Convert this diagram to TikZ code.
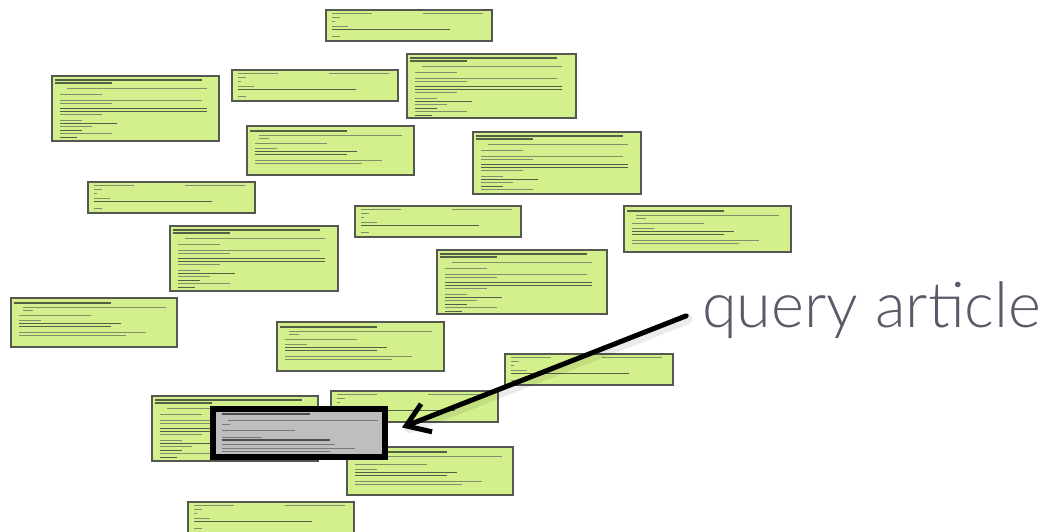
\documentclass[tikz,border=0pt]{standalone}
\usepackage{fontspec}
\usetikzlibrary{arrows.meta}
\IfFontExistsTF{Lato Light}{\newfontfamily\qfont{Lato Light}}{\newfontfamily\qfont{Lato}}
\definecolor{artfill}{RGB}{212,240,140}
\definecolor{artedge}{RGB}{85,88,80}
\definecolor{artline}{RGB}{130,142,105}
\definecolor{artdark}{RGB}{85,95,70}
\definecolor{qfill}{RGB}{190,190,190}
\definecolor{qline}{RGB}{120,120,120}
\definecolor{labelcol}{RGB}{88,92,104}
\tikzset{
  artbox/.style={draw=artedge, fill=artfill, line width=1.4pt, rectangle, inner sep=0pt, outer sep=0pt, anchor=north west},
  qbox/.style={draw=black, fill=qfill, line width=6pt, rectangle, inner sep=0pt},
  tl/.style={draw=artline, line width=0.7pt},
  tld/.style={draw=artdark, line width=0.9pt},
  ttl/.style={draw=artdark, line width=1.3pt},
  ql/.style={draw=qline, line width=0.8pt},
  qld/.style={draw=black!70, line width=1.1pt},
  qarrow/.style={draw=black, line width=5pt, line cap=round, -{Straight Barb[length=22pt,width=30pt]}},
  qshadow/.style={draw=black, opacity=0.08, line width=11pt, line cap=round},
  qlabel/.style={text=labelcol, inner sep=0pt, font=\qfont\fontsize{63}{70}\selectfont}
}
% short article card
\newcommand{\ArtShort}[4]{%
  \node[artbox, minimum width=#4pt, minimum height=31pt] (#1) at (#2,#3) {};
  \begin{scope}[shift={(#2,#3)}]
    \draw[tl] (6,3) -- (46,3); \draw[tl] (97,3) -- (157,3);
    \draw[tl] (6,7) -- (14,7);
    \draw[tl] (6,11) -- (9,11);
    \draw[tl] (6,16) -- (22,16);
    \draw[tld] (6,19.5) -- (124,19.5);
    \draw[tl] (6,26) -- (14,26);
  \end{scope}}
% medium article card
\newcommand{\ArtMed}[5]{%
  \node[artbox, minimum width=#4pt, minimum height=#5pt] (#1) at (#2,#3) {};
  \begin{scope}[shift={(#2,#3)}]
    \draw[ttl] (3,5) -- (100,5);
    \draw[tl] (12,9) -- (155,9);
    \draw[tl] (12,12.5) -- (22,12.5);
    \draw[tl] (8,17) -- (80,17);
    \draw[tl] (8,22) -- (30,22);
    \draw[tld] (8,25) -- (110,25);
    \draw[tld] (8,28) -- (100,28);
    \draw[tl] (8,34) -- (135,34);
    \draw[tl] (8,37.5) -- (115,37.5);
  \end{scope}}
% long article card
\newcommand{\ArtLong}[5]{%
  \node[artbox, minimum width=#4pt, minimum height=#5pt] (#1) at (#2,#3) {};
  \begin{scope}[shift={(#2,#3)}]
    \draw[ttl] (3,4) -- (150,4); \draw[ttl] (3,7) -- (60,7);
    \draw[tl] (15,12) -- (155,12);
    \draw[tl] (8,18) -- (50,18);
    \draw[tl] (8,24) -- (150,24); \draw[tl] (8,27) -- (60,27);
    \draw[tld] (8,32) -- (155,32); \draw[tld] (8,35) -- (155,35); \draw[tl] (8,38) -- (50,38);
    \draw[tl] (8,44) -- (30,44); \draw[tld] (8,47) -- (65,47); \draw[tl] (8,50) -- (40,50);
    \draw[tld] (8,54) -- (30,54); \draw[tl] (8,57) -- (60,57); \draw[tld] (8,61) -- (25,61);
  \end{scope}}
\begin{document}
\begin{tikzpicture}[x=1pt,y=-1pt]
\useasboundingbox[fill=white] (0,0) rectangle (1050,531);
% article cards
\ArtShort{a}{326}{10}{166}
\ArtLong{b}{52}{76}{167}{65}
\ArtShort{c}{232}{70}{166}
\ArtLong{d}{407}{54}{169}{64}
\ArtMed{e}{247}{126}{167}{49}
\ArtLong{f}{473}{132}{168}{62}
\ArtShort{g}{88}{182}{167}
\ArtShort{h}{355}{206}{166}
\ArtLong{i}{170}{226}{168}{65}
\ArtLong{j}{437}{250}{170}{64}
\ArtMed{k}{624}{206}{167}{46}
\ArtMed{l}{11}{298}{166}{49}
\ArtMed{m}{277}{322}{167}{49}
\ArtShort{n}{505}{354}{168}
\ArtShort{o}{331}{391}{167}
\ArtLong{p}{152}{396}{166}{65}
\ArtMed{r}{347}{447}{166}{48}
\ArtShort{s}{188}{502}{166}
% query article
\node[qbox, minimum width=172pt, minimum height=48pt] (q) at (299,433) {};
\begin{scope}[shift={(210,406)}]
  \draw[qld] (12,8) -- (100,8);
  \draw[ql] (18,14) -- (168,14);
  \draw[ql] (12,18) -- (20,18);
  \draw[ql] (12,24) -- (85,24);
  \draw[ql] (12,31) -- (52,31);
  \draw[qld] (12,34) -- (120,34);
  \draw[ql] (12,38) -- (125,38);
  \draw[ql] (12,42) -- (145,42);
  \draw[ql] (12,45) -- (120,45);
\end{scope}
% label and arrow
\node[qlabel, anchor=base west] (lab) at (702,327) {query article};
\draw[qshadow, shorten <=17pt, shorten >=22pt, transform canvas={xshift=1pt,yshift=-3pt}] (lab.west) -- (q.east);
\draw[qarrow, shorten <=17pt, shorten >=15pt] (lab.west) -- (q.east);
\end{tikzpicture}
\end{document}
